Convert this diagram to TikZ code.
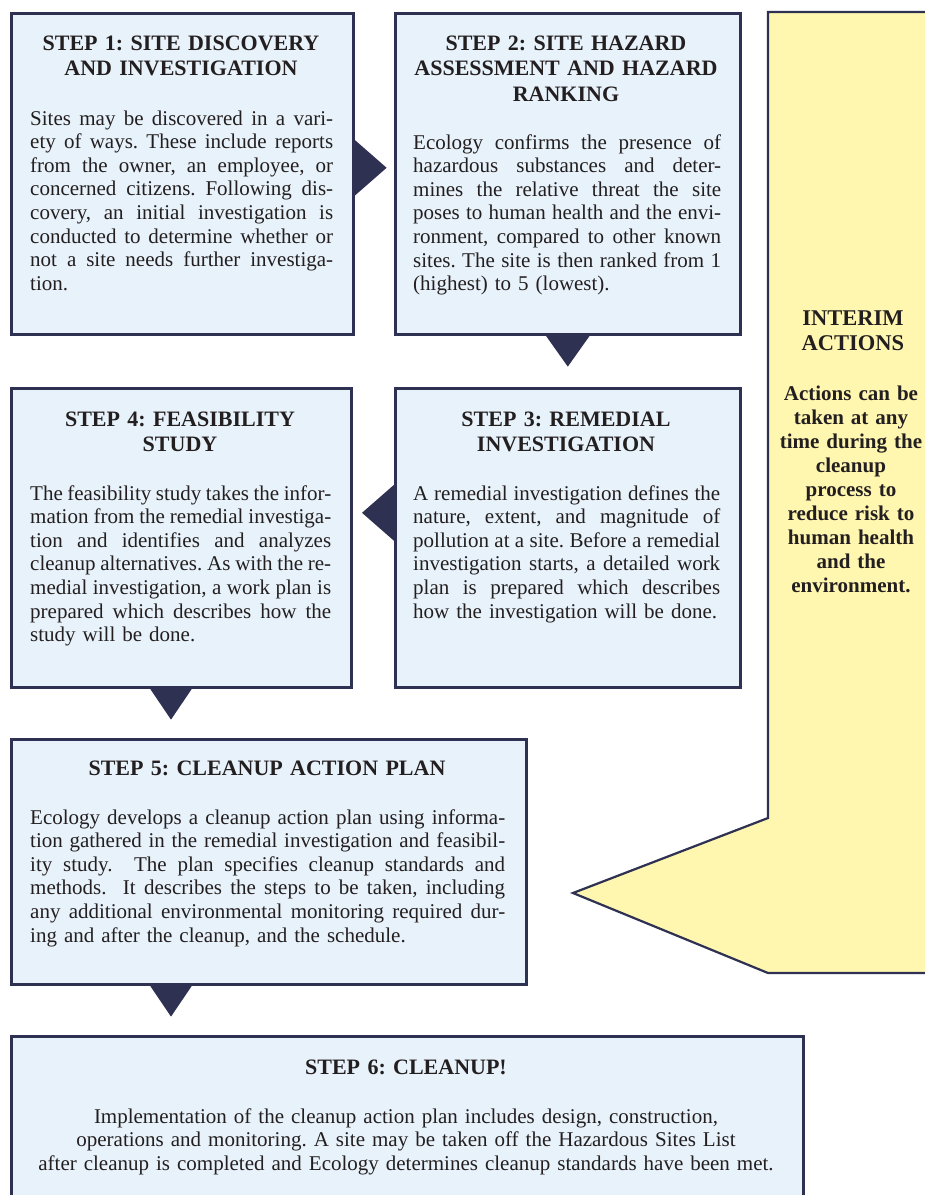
\documentclass[tikz,border=0pt]{standalone}
\usepackage{fontspec}
\setmainfont{Liberation Serif}
\frenchspacing
\definecolor{navy}{HTML}{2E3152}
\definecolor{boxblue}{HTML}{E8F2FA}
\definecolor{calloutyellow}{HTML}{FFF6B0}
\definecolor{ink}{HTML}{231F20}
\newdimen\bw
\newcommand\jline[1]{\noindent\hbox to\bw{\spaceskip=0.25em plus 3em minus 0.05em\relax #1}\par}
\newcommand\lline[1]{\noindent\hbox to\bw{#1\hfil}\par}
\tikzset{
  stepbox/.style={draw=navy, line width=2.6pt, fill=boxblue, anchor=north west, inner sep=0pt},
  tri/.style={fill=navy},
  callout/.style={draw=navy, line width=2.2pt, fill=calloutyellow, line join=miter},
  ttl/.style={font=\bfseries\fontsize{22}{25.5}\selectfont, align=center, anchor=base, inner sep=0pt, text=ink},
  body/.style={font={\fontsize{21}{23.6}\selectfont\global\bw=#1\relax}, text width=#1, anchor=base west, inner sep=0pt, text=ink},
  cbody/.style={font=\fontsize{21}{23.6}\selectfont, align=center, anchor=base, inner sep=0pt, text=ink},
  ctitle/.style={font=\bfseries\fontsize{22.5}{25}\selectfont, align=center, anchor=base, inner sep=0pt, text=ink},
  cbodyb/.style={font=\bfseries\fontsize{21}{24}\selectfont, align=center, anchor=base, inner sep=0pt, text=ink},
}
\begin{document}
\begin{tikzpicture}[x=1pt,y=1pt]
\fill[white] (0,0) rectangle (925,-1195);
\useasboundingbox (0,0) rectangle (925,-1195);

% interim actions callout
\filldraw[callout] (768,-12) -- (945,-12) -- (945,-973) -- (768,-973) -- (573,-893) -- (768,-818) -- cycle;
\node[ctitle, text width=150pt] (ia) at (853,-325) {INTERIM\\ACTIONS};
\node[cbodyb, text width=160pt] (iab) at (851,-400) {Actions can be\\taken at any\\time during the\\cleanup\\process to\\reduce risk to\\human health\\and the\\environment.};

% step boxes
\node[stepbox, minimum width=342pt, minimum height=321pt] (s1) at (10,-12) {};
\node[stepbox, minimum width=345pt, minimum height=321pt] (s2) at (394,-12) {};
\node[stepbox, minimum width=340pt, minimum height=299pt] (s4) at (10,-387) {};
\node[stepbox, minimum width=345pt, minimum height=299pt] (s3) at (394,-387) {};
\node[stepbox, minimum width=515pt, minimum height=245pt] (s5) at (10,-738) {};
\node[stepbox, minimum width=792pt, minimum height=200pt] (s6) at (10,-1035) {};

% connectors (triangles)
\fill[tri] ([yshift=34pt]s1.east) -- ([shift={(32pt,6pt)}]s1.east) -- ([yshift=-22pt]s1.east) -- cycle;
\fill[tri] ([xshift=-22pt]s2.south) -- ([xshift=22pt]s2.south) -- ([yshift=-31pt]s2.south) -- cycle;
\fill[tri] ([yshift=53pt]s3.west) -- ([shift={(-32pt,25pt)}]s3.west) -- ([yshift=-3pt]s3.west) -- cycle;
\fill[tri] ([xshift=140pt]s4.south west) -- ([xshift=182pt]s4.south west) -- ([shift={(161pt,-31pt)}]s4.south west) -- cycle;
\fill[tri] ([xshift=140pt]s5.south west) -- ([xshift=182pt]s5.south west) -- ([shift={(161pt,-31pt)}]s5.south west) -- cycle;

% step 1
\node[ttl, text width=330pt] (t1) at (181,-50) {STEP 1: SITE DISCOVERY\\AND INVESTIGATION};
\node[body=303pt] (b1) at (30,-125) {%
\jline{Sites may be discovered in a vari-}%
\jline{ety of ways. These include reports}%
\jline{from the owner, an employee, or}%
\jline{concerned citizens. Following dis-}%
\jline{covery, an initial investigation is}%
\jline{conducted to determine whether or}%
\jline{not a site needs further investiga-}%
\lline{tion.}};

% step 2
\node[ttl, text width=335pt] (t2) at (566,-50) {STEP 2: SITE HAZARD\\ASSESSMENT AND HAZARD\\RANKING};
\node[body=308pt] (b2) at (413,-149) {%
\jline{Ecology confirms the presence of}%
\jline{hazardous substances and deter-}%
\jline{mines the relative threat the site}%
\jline{poses to human health and the envi-}%
\jline{ronment, compared to other known}%
\jline{sites. The site is then ranked from 1}%
\lline{(highest) to 5 (lowest).}};

% step 4
\node[ttl, text width=330pt] (t4) at (180,-426) {STEP 4: FEASIBILITY\\STUDY};
\node[body=301pt] (b4) at (30,-500) {%
\jline{The feasibility study takes the infor-}%
\jline{mation from the remedial investiga-}%
\jline{tion and identifies and analyzes}%
\jline{cleanup alternatives. As with the re-}%
\jline{medial investigation, a work plan is}%
\jline{prepared which describes how the}%
\lline{study will be done.}};

% step 3
\node[ttl, text width=335pt] (t3) at (566,-426) {STEP 3: REMEDIAL\\INVESTIGATION};
\node[body=307pt] (b3) at (413,-500) {%
\jline{A remedial investigation defines the}%
\jline{nature, extent, and magnitude of}%
\jline{pollution at a site. Before a remedial}%
\jline{investigation starts, a detailed work}%
\jline{plan is prepared which describes}%
\lline{how the investigation will be done.}};

% step 5
\node[ttl, text width=500pt] (t5) at (267,-775) {STEP 5: CLEANUP ACTION PLAN};
\node[body=475pt] (b5) at (30,-824) {%
\jline{Ecology develops a cleanup action plan using informa-}%
\jline{tion gathered in the remedial investigation and feasibil-}%
\jline{ity study.\ \ The plan specifies cleanup standards and}%
\jline{methods.\ \ It describes the steps to be taken, including}%
\jline{any additional environmental monitoring required dur-}%
\lline{ing and after the cleanup, and the schedule.}};

% step 6
\node[ttl, text width=780pt] (t6) at (406,-1074) {STEP 6: CLEANUP!};
\node[cbody, text width=780pt] (b6) at (406,-1123) {Implementation of the cleanup action plan includes design, construction,\\operations and monitoring. A site may be taken off the Hazardous Sites List\\after cleanup is completed and Ecology determines cleanup standards have been met.};
\end{tikzpicture}
\end{document}
